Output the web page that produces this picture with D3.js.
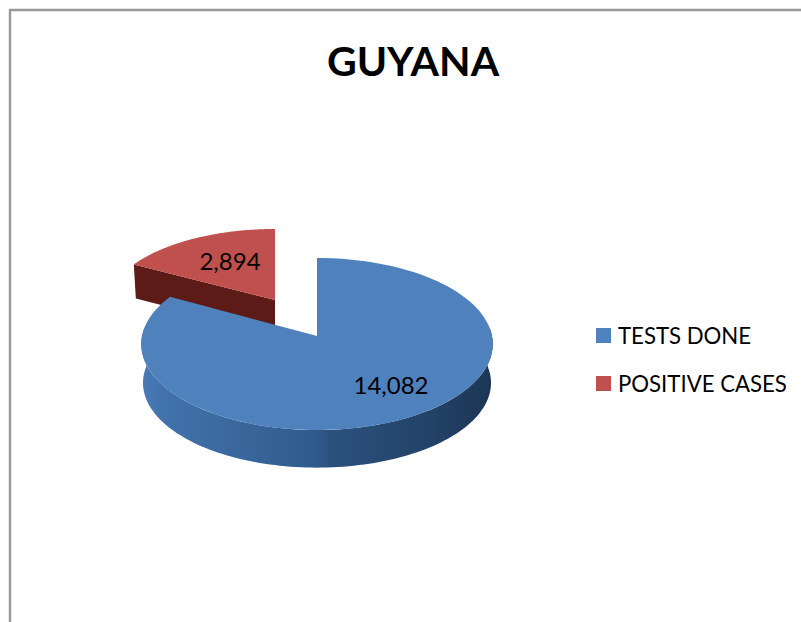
<!DOCTYPE html>
<html>
<head>
<meta charset="utf-8">
<script src="https://cdnjs.cloudflare.com/ajax/libs/d3/7.8.5/d3.min.js"></script>
<style>
  html, body { margin: 0; padding: 0; background: #fff; }
  svg { display: block; }
  text { font-family: Lato, "Open Sans", sans-serif; fill: #000; }
</style>
</head>
<body>
<svg id="chart" width="801" height="622"></svg>
<script>
let categories = ['TESTS DONE', 'POSITIVE CASES'];
let values = [14082, 2894];
let colors = ['#4f81bd', '#c0504d'];

let svg = d3.select('#chart');
let fmt = d3.format(',');

// pie lies on a tilted plane, back of the pie is further away
let tilt = 0.093;
let radiusX = 175;
let radiusY = 85.3;

function project(angle, rx, ry, c) {
  let X = Math.sin(angle);
  let Y = -Math.cos(angle);
  let w = 1 - tilt * Y;
  return [c.x + radiusX * rx * X / w, c.y + radiusY * ry * Y / w];
}

let slices = d3.pie().sort(null)(values);

// steps along an outer rim
function rim(start, end, rx, ry, c) {
  let n = 120;
  return d3.range(n + 1).map(i => project(start + (end - start) * i / n, rx, ry, c));
}

let line = d3.line();

// frame
svg.append('path')
  .attr('d', 'M10,622V10H801')
  .attr('fill', 'none')
  .attr('stroke', '#999')
  .attr('stroke-width', 2.4);

// title
svg.append('text')
  .attr('x', 413)
  .attr('y', 76)
  .attr('text-anchor', 'middle')
  .attr('font-size', 41)
  .attr('font-weight', 700)
  .text('GUYANA');

let defs = svg.append('defs');
let wallGrad = defs.append('linearGradient')
  .attr('id', 'blueWall')
  .attr('gradientUnits', 'userSpaceOnUse')
  .attr('x1', 142).attr('x2', 494).attr('y1', 0).attr('y2', 0);
[[0, '#4a7bb6'], [0.06, '#4272ab'], [0.3, '#38669b'], [0.5, '#2f5a8d'], [0.53, '#2b517f'], [0.8, '#234469'], [1, '#1c3553']]
  .forEach(s => wallGrad.append('stop').attr('offset', s[0]).attr('stop-color', s[1]));

// red slice, pulled out and further back so a bit smaller
let redCentre = { x: 275, y: 300 };
let redDepth = 34;
let red = slices[1];
let redTop = rim(red.startAngle, red.endAngle, 0.96, 0.91, redCentre);
let redLeft = redTop[0];

svg.append('path')
  .attr('d', line([redLeft, [redCentre.x, redCentre.y],
    [redCentre.x, redCentre.y + redDepth], [redLeft[0] + 2, redLeft[1] + redDepth]]) + 'Z')
  .attr('fill', '#5c1b17');

svg.append('path')
  .attr('d', line([[redCentre.x, redCentre.y]].concat(redTop)) + 'Z')
  .attr('fill', colors[1]);

// blue slice
let blueCentre = { x: 317, y: 336 };
let blueDepth = 39;
let blue = slices[0];
let blueTop = rim(blue.startAngle, blue.endAngle, 1, 1, blueCentre);

let wallTop = rim(Math.PI / 2 - 0.1, Math.PI * 3 / 2 + 0.1, 1, 1, blueCentre);
let wallBottom = rim(Math.PI / 2 - 0.1, Math.PI * 3 / 2 + 0.1, 0.99, 0.985, { x: blueCentre.x, y: blueCentre.y + blueDepth });

svg.append('path')
  .attr('d', line(wallTop.concat(wallBottom.reverse())) + 'Z')
  .attr('fill', 'url(#blueWall)');

svg.append('path')
  .attr('d', line([[blueCentre.x, blueCentre.y]].concat(blueTop)) + 'Z')
  .attr('fill', colors[0]);

// data labels
let labelPos = [[391, 394], [230, 270]];
svg.selectAll('.label')
  .data(values)
  .enter()
  .append('text')
  .attr('class', 'label')
  .attr('x', (d, i) => labelPos[i][0])
  .attr('y', (d, i) => labelPos[i][1])
  .attr('text-anchor', 'middle')
  .attr('font-size', 24)
  .text(d => fmt(d));

// legend
let legendY = d3.scalePoint().domain(categories).range([335.5, 383.5]);
let legend = svg.selectAll('.legend')
  .data(categories)
  .enter()
  .append('g')
  .attr('class', 'legend')
  .attr('transform', d => 'translate(596,' + legendY(d) + ')');

legend.append('rect')
  .attr('y', -7.5)
  .attr('width', 15)
  .attr('height', 15)
  .attr('fill', (d, i) => colors[i]);

legend.append('text')
  .attr('x', 22)
  .attr('y', 8)
  .attr('font-size', 22.2)
  .text(d => d);
</script>
</body>
</html>
